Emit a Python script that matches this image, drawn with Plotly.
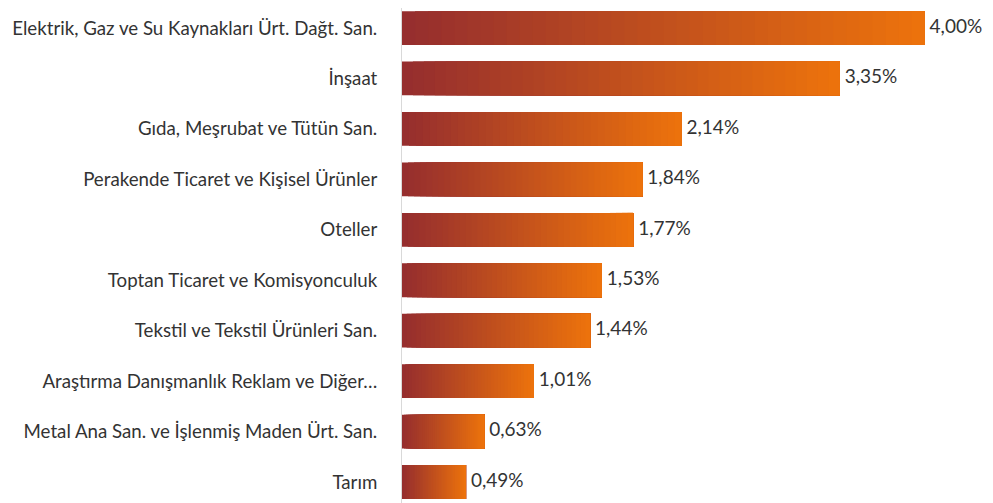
import plotly.graph_objects as go

categories = [
    "Elektrik, Gaz ve Su Kaynakları Ürt. Dağt. San.",
    "İnşaat",
    "Gıda, Meşrubat ve Tütün San.",
    "Perakende Ticaret ve Kişisel Ürünler",
    "Oteller",
    "Toptan Ticaret ve Komisyonculuk",
    "Tekstil ve Tekstil Ürünleri San.",
    "Araştırma Danışmanlık Reklam ve Diğer…",
    "Metal Ana San. ve İşlenmiş Maden Ürt. San.",
    "Tarım",
]
values = [4.00, 3.35, 2.14, 1.84, 1.77, 1.53, 1.44, 1.01, 0.63, 0.49]

c_start = (150, 46, 46)
c_end = (236, 114, 12)
N = 40

fig = go.Figure()
for k in range(N):
    t = k / (N - 1)
    col = "rgb(%d,%d,%d)" % tuple(round(a + (b - a) * t) for a, b in zip(c_start, c_end))
    fig.add_trace(go.Bar(
        y=categories,
        x=[v * (1 - k / N) for v in values],
        base=[v * k / N for v in values],
        orientation="h",
        marker=dict(color=col, line=dict(width=0)),
        hoverinfo="skip",
        showlegend=False,
    ))

fig.add_trace(go.Scatter(
    y=categories,
    x=values,
    mode="text",
    text=[" " + f"{v:.2f}".replace(".", ",") + "%" for v in values],
    textposition="middle right",
    textfont=dict(family="Lato, Carlito, sans-serif", size=19, color="#333333"),
    showlegend=False,
    hoverinfo="skip",
    cliponaxis=False,
))

fig.update_layout(
    width=985,
    height=495,
    barmode="overlay",
    bargap=0.33,
    plot_bgcolor="white",
    paper_bgcolor="white",
    margin=dict(l=394, r=16, t=0, b=0),
    font=dict(family="Lato, Carlito, sans-serif", size=18.7, color="#333333"),
    xaxis=dict(range=[0, 4.4], visible=False, showgrid=False, zeroline=False),
    yaxis=dict(
        range=[9.416, -0.397],
        showline=True,
        linecolor="#d9d9d9",
        linewidth=1,
        ticks="",
        ticklabelstandoff=20,
        showgrid=False,
        automargin=False,
    ),
)

fig.write_html("out.html")
